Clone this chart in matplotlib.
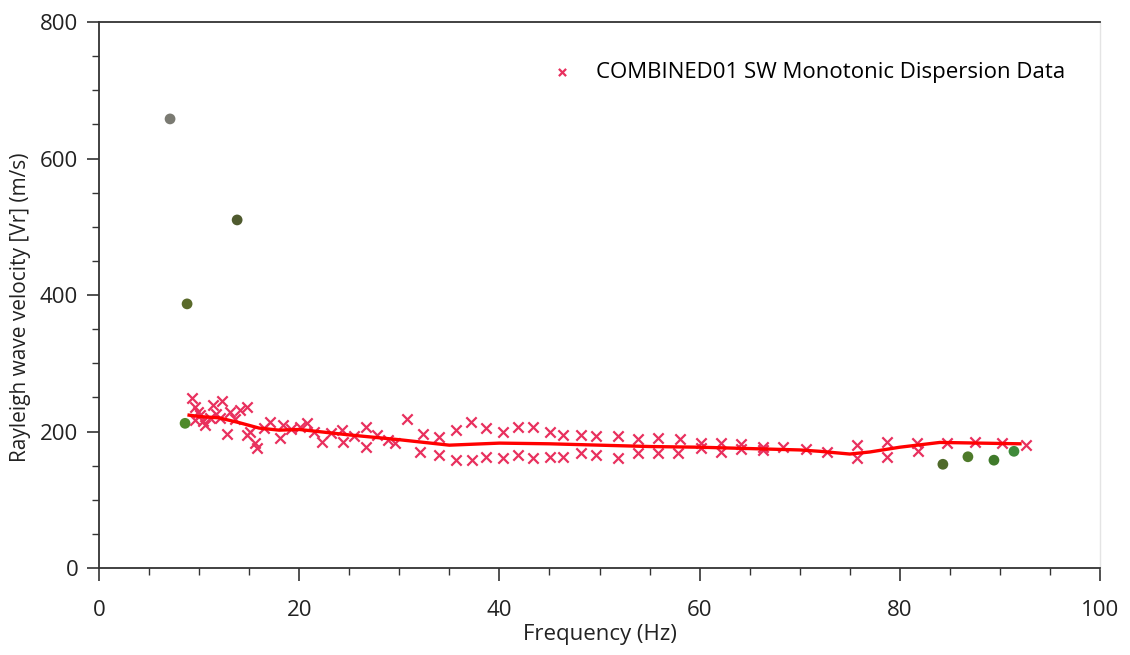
import matplotlib
matplotlib.use("Agg")
import matplotlib.pyplot as plt
from matplotlib.ticker import MultipleLocator

plt.rcParams['font.family'] = ['Open Sans', 'DejaVu Sans']

# dispersion picks (frequency Hz, velocity m/s)
freq = [9.3, 9.6, 9.6, 9.9, 10.1, 10.4, 10.6, 11.1, 11.4, 11.7, 12.1, 12.3,
        12.8, 13.1, 13.6, 14.1, 14.8, 14.8, 15.1, 15.6, 15.8, 16.5, 17.1,
        18.1, 18.4, 19.2, 20.1, 20.8, 21.5, 22.3, 23.2, 24.3, 24.4, 25.5,
        26.7, 26.7, 27.8, 28.9, 29.6, 30.8, 32.1, 32.4, 34.0, 34.0, 35.7,
        35.7, 37.2, 37.3, 38.7, 38.7, 40.4, 40.4, 41.9, 41.9, 43.4, 43.4,
        45.1, 45.1, 46.4, 46.4, 48.1, 48.1, 49.6, 49.6, 51.8, 51.8, 53.8,
        53.8, 55.8, 55.8, 57.8, 58.0, 60.1, 60.1, 62.1, 62.1, 64.1, 64.1,
        66.3, 66.3, 68.3, 70.6, 72.7, 75.7, 75.7, 78.7, 78.7, 81.7, 81.8,
        84.7, 87.5, 90.2, 92.6]
vel = [249, 236, 217, 228, 224, 215, 210, 220, 239, 226, 220, 244,
       197, 229, 218, 231, 236, 195, 200, 183, 176, 205, 214,
       190, 210, 203, 207, 212, 200, 185, 198, 202, 185, 193,
       207, 178, 195, 188, 183, 218, 170, 197, 192, 166, 202,
       158, 214, 158, 205, 163, 200, 161, 207, 166, 207, 161,
       200, 163, 195, 163, 195, 168, 193, 166, 193, 161, 189,
       169, 190, 169, 168, 189, 183, 176, 183, 170, 181, 175,
       177, 173, 178, 175, 170, 180, 161, 185, 163, 183, 171,
       183, 185, 183, 180]

# smoothed dispersion curve
curve_f = [9, 10, 12, 14, 15, 16, 18, 20, 25, 30, 35, 40, 45, 50, 55, 60,
           65, 70, 72, 75, 77, 80, 84, 88, 92]
curve_v = [224, 222, 220, 213, 209, 205, 202, 203, 195, 188, 180, 183, 182,
           180, 178, 177, 175, 173, 171, 167, 170, 177, 184, 183, 182]

# excluded points
out_f = [7.1, 13.8, 8.8, 8.6, 84.3, 86.8, 89.4, 91.4]
out_v = [658, 510, 387, 212, 152, 163, 158, 171]
out_c = ['#7a7a72', '#4f5a2e', '#5a6a2a', '#4e8a2a', '#4f6a2a', '#4e7a2a',
         '#3f7a2a', '#3f8a3a']

fig = plt.figure(figsize=(11.3, 6.55), dpi=100)
ax = fig.add_axes([0.0876, 0.1328, 0.8859, 0.8336])

ax.scatter(out_f, out_v, s=60, c=out_c, zorder=2, edgecolors='none')
ax.scatter(freq, vel, marker='x', s=55, color='#e8305e', linewidths=1.6,
           zorder=3, label='COMBINED01 SW Monotonic Dispersion Data')
ax.plot(curve_f, curve_v, color='#ff0000', lw=2.4, zorder=4)

ax.set_xlim(0, 100)
ax.set_ylim(0, 800)
ax.xaxis.set_major_locator(MultipleLocator(20))
ax.xaxis.set_minor_locator(MultipleLocator(5))
ax.yaxis.set_major_locator(MultipleLocator(200))
ax.yaxis.set_minor_locator(MultipleLocator(50))
ax.spines['right'].set_color('#e4e4e4')
ax.spines['right'].set_linewidth(1.0)
for s in ('left', 'bottom', 'top'):
    ax.spines[s].set_color('#333333')
    ax.spines[s].set_linewidth(1.3)
ax.tick_params(which='major', length=9, width=1.2, color='#333333',
               labelsize=16, labelcolor='#222222')
ax.tick_params(which='minor', length=5, width=1.0, color='#333333')
ax.tick_params(axis='x', pad=14)
ax.tick_params(axis='y', pad=6)

ax.set_xlabel('Frequency (Hz)', fontsize=16, color='#222222', labelpad=2)
ax.set_ylabel('Rayleigh wave velocity [Vr] (m/s)', fontsize=15,
              color='#222222')
ax.yaxis.set_label_coords(-0.068, 0.478)

ax.legend(loc='upper right', frameon=False, fontsize=16,
          bbox_to_anchor=(0.985, 0.963), handletextpad=0.5, markerscale=0.7)

fig.savefig('out.png', dpi=100)
